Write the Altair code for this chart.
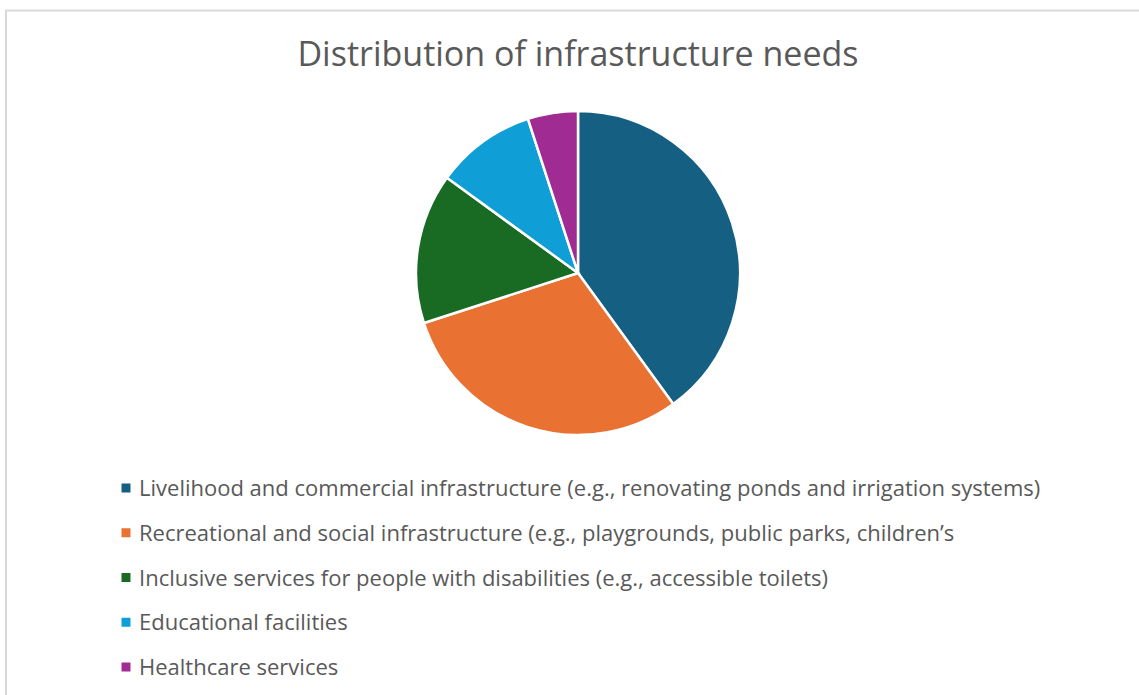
import altair as alt
import pandas as pd

title_text = "Distribution of infrastructure needs"
categories = [
    "Livelihood and commercial infrastructure (e.g., renovating ponds and irrigation systems)",
    "Recreational and social infrastructure (e.g., playgrounds, public parks, children\u2019s",
    "Inclusive services for people with disabilities (e.g., accessible toilets)",
    "Educational facilities",
    "Healthcare services",
]
shares = [40, 30, 15, 10, 5]
colors = ["#156082", "#E97132", "#196B24", "#0F9ED5", "#A02B93"]

df = pd.DataFrame({"category": categories, "share": shares, "order": list(range(len(categories)))})

W, H = 1139, 695
color_scale = alt.Scale(domain=categories, range=colors)
FONT = "Open Sans"

pie = alt.Chart(df).mark_arc(radius=162, stroke="white", strokeWidth=2.5).encode(
    theta=alt.Theta("share:Q", stack=True),
    color=alt.Color("category:N", scale=color_scale, legend=None),
    order=alt.Order("order:Q"),
    x=alt.value(578),
    y=alt.value(273),
)

legend_sq = alt.Chart(df).mark_square(size=81, opacity=1).encode(
    x=alt.value(126),
    y=alt.Y("category:N", sort=categories, axis=None,
            scale=alt.Scale(range=[488, 667], padding=0)),
    color=alt.Color("category:N", scale=color_scale, legend=None),
)

legend_txt = alt.Chart(df).mark_text(
    align="left", baseline="middle", font=FONT, fontSize=22, color="#595959", dy=1
).encode(
    x=alt.value(139),
    y=alt.Y("category:N", sort=categories, axis=None),
    text="category:N",
)

title = alt.Chart(pd.DataFrame({"t": [title_text]})).mark_text(
    align="center", baseline="alphabetic", font=FONT, fontSize=34, color="#595959"
).encode(x=alt.value(578), y=alt.value(66), text="t:N")

border_top = alt.Chart(pd.DataFrame({"a": [0]})).mark_rule(color="#d9d9d9", strokeWidth=2).encode(
    x=alt.value(5), x2=alt.value(W), y=alt.value(10.5)
)
border_left = alt.Chart(pd.DataFrame({"a": [0]})).mark_rule(color="#d9d9d9", strokeWidth=2).encode(
    x=alt.value(6), y=alt.value(10), y2=alt.value(H)
)

chart = alt.layer(border_top, border_left, pie, legend_sq, legend_txt, title).properties(
    width=W, height=H, padding=0, autosize=alt.AutoSizeParams(type="none"),
    background="white",
).configure_view(stroke=None)

chart.save("out.html", embed_options={"renderer": "svg", "actions": False})
